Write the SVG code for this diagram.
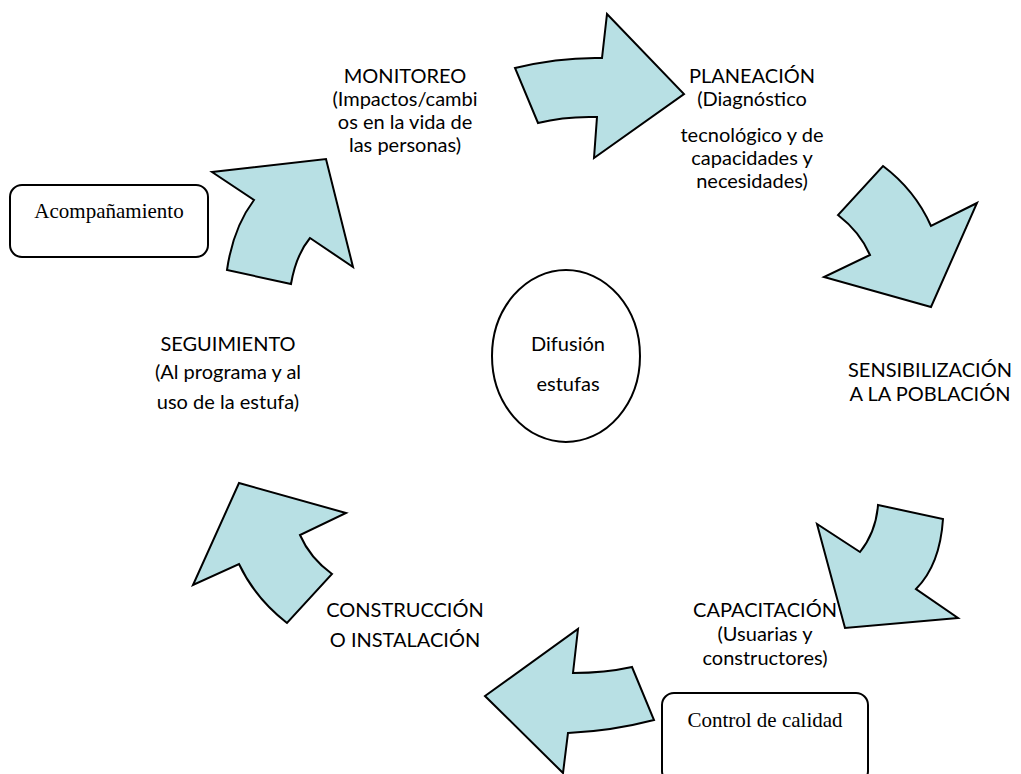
<svg xmlns="http://www.w3.org/2000/svg" width="1021" height="774" viewBox="0 0 1021 774">
  <style>
    .arrow { fill: #b8e0e4; stroke: #000; stroke-width: 2; stroke-linejoin: miter; }
    .lbl { font-family: Lato, "Liberation Sans", sans-serif; font-size: 20px; fill: #000; text-anchor: middle; }
    .box { fill: #fff; stroke: #000; stroke-width: 2; }
    .boxtxt { font-family: "Liberation Serif", serif; font-size: 21px; fill: #000; text-anchor: middle; }
  </style>
  <rect width="1021" height="774" fill="#fff"/>

  <!-- curved arrows forming the cycle -->
  <g id="connectors">
    <path class="arrow" d="M515,68 Q560,57 602,58 L607,14 L684,94 L594,158 L597,117 Q565,116 538,123 Z"/>
    <path class="arrow" d="M883,166 Q915,190 931,226 L977,203 L931,307 L824,277 L870,255 Q860,232 838,215 Z"/>
    <path class="arrow" d="M878,505 L943,519 Q940,565 916,589 L958,618 L845,628 L817,524 L860,552 Q876,532 878,505 Z"/>
    <path class="arrow" d="M485,696 L578,629 L573,673 Q605,673 632,667 L654,720 Q612,731 568,733 L563,773 Z"/>
    <path class="arrow" d="M239,483 L346,513 L300,535 Q310,558 332,574 L287,623 Q255,598 239,564 L193,585 Z"/>
    <path class="arrow" d="M212,172 L326,159 L353,267 L310,238 Q296,255 291,284 L227,270 Q233,228 254,200 Z"/>
  </g>

  <g id="centro">
    <ellipse cx="566" cy="356" rx="74" ry="86" fill="#fff" stroke="#000" stroke-width="2"/>
    <text class="lbl" x="568" y="351">Difusión</text>
    <text class="lbl" x="568" y="391">estufas</text>
  </g>

  <g id="monitoreo">
    <text class="lbl" x="405" y="83">MONITOREO</text>
    <text class="lbl" x="405" y="106">(Impactos/cambi</text>
    <text class="lbl" x="405" y="129">os en la vida de</text>
    <text class="lbl" x="405" y="152">las personas)</text>
  </g>

  <g id="planeacion">
    <text class="lbl" x="752" y="83">PLANEACIÓN</text>
    <text class="lbl" x="752" y="106">(Diagnóstico</text>
    <text class="lbl" x="752" y="142">tecnológico y de</text>
    <text class="lbl" x="752" y="165">capacidades y</text>
    <text class="lbl" x="752" y="188">necesidades)</text>
  </g>

  <g id="sensibilizacion">
    <text class="lbl" x="930" y="377">SENSIBILIZACIÓN</text>
    <text class="lbl" x="930" y="401">A LA POBLACIÓN</text>
  </g>

  <g id="capacitacion">
    <text class="lbl" x="765" y="617">CAPACITACIÓN</text>
    <text class="lbl" x="765" y="641">(Usuarias y</text>
    <text class="lbl" x="765" y="665">constructores)</text>
  </g>

  <g id="construccion">
    <text class="lbl" x="405" y="617">CONSTRUCCIÓN</text>
    <text class="lbl" x="405" y="647">O INSTALACIÓN</text>
  </g>

  <g id="seguimiento">
    <text class="lbl" x="228" y="351">SEGUIMIENTO</text>
    <text class="lbl" x="228" y="379">(Al programa y al</text>
    <text class="lbl" x="228" y="409">uso de la estufa)</text>
  </g>

  <g id="acompanamiento">
    <rect class="box" x="10" y="185" width="198" height="72" rx="12"/>
    <text class="boxtxt" x="109" y="218">Acompañamiento</text>
  </g>

  <g id="control-calidad">
    <rect class="box" x="662" y="693" width="206" height="90" rx="12"/>
    <text class="boxtxt" x="765" y="727">Control de calidad</text>
  </g>
</svg>
